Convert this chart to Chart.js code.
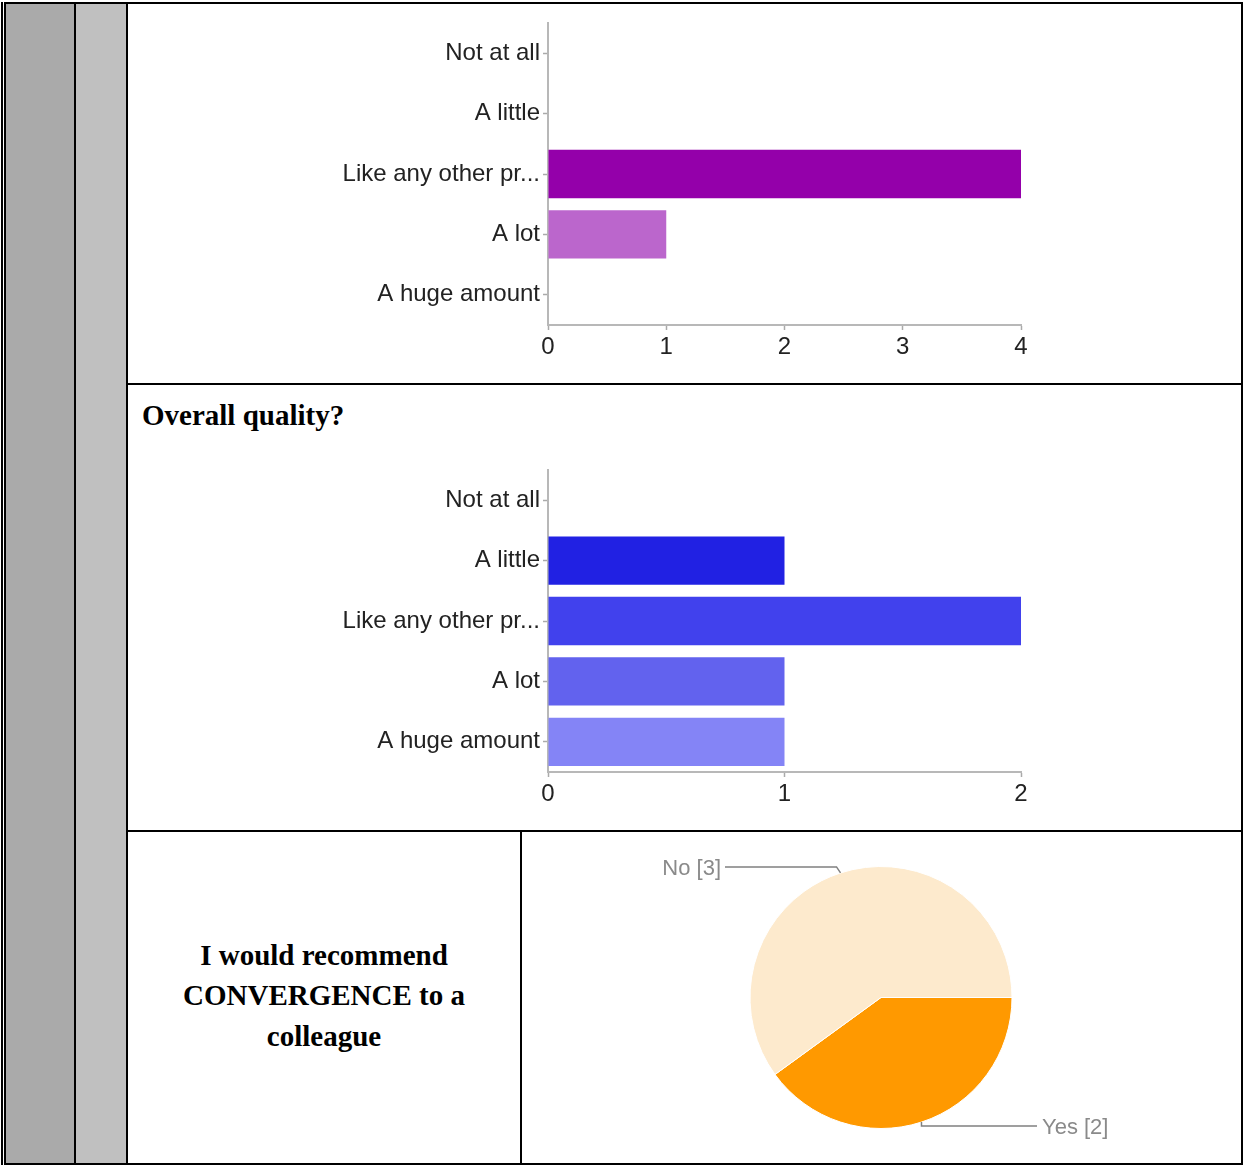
<!DOCTYPE html>
<html><head><meta charset="utf-8">
<script src="https://cdn.jsdelivr.net/npm/chart.js@4.4.1/dist/chart.umd.min.js"></script>
<style>
html,body{margin:0;padding:0;background:#fff;}
body{width:1243px;height:1166px;position:relative;overflow:hidden;}
.b{position:absolute;background:#000;}
canvas{position:absolute;}
.t{position:absolute;font-family:"Liberation Serif","Times New Roman",serif;font-weight:bold;font-size:29px;color:#000;}
</style></head><body>
<div class="b" style="left:1px;top:2px;width:2px;height:1163px"></div>
<div style="position:absolute;left:4px;top:2px;width:1239px;height:1163px;box-sizing:border-box;border:2px solid #000"></div>
<div style="position:absolute;left:6px;top:4px;width:68px;height:1159px;background:#aaaaaa"></div>
<div class="b" style="left:74px;top:4px;width:2px;height:1159px"></div>
<div style="position:absolute;left:76px;top:4px;width:50px;height:1159px;background:#c0c0c0"></div>
<div class="b" style="left:126px;top:4px;width:2px;height:1159px"></div>
<div class="b" style="left:128px;top:383px;width:1113px;height:2px"></div>
<div class="b" style="left:128px;top:830px;width:1113px;height:2px"></div>
<div class="b" style="left:520px;top:832px;width:2px;height:331px"></div>

<canvas id="c1" width="1112" height="379" style="left:128px;top:4px"></canvas>
<div class="t" style="left:142px;top:401px;line-height:29px;white-space:nowrap">Overall quality?</div>
<canvas id="c2" width="1112" height="385" style="left:128px;top:445px"></canvas>
<div class="t" style="left:128px;top:832px;width:392px;height:331px;display:flex;align-items:center;justify-content:center;text-align:center;line-height:40.5px;box-sizing:border-box;padding-bottom:4px">
<div>I would recommend<br>CONVERGENCE to a<br>colleague</div></div>
<canvas id="c3" width="718" height="331" style="left:522px;top:832px"></canvas>

<script>
const categories = ['Not at all', 'A little', 'Like any other pr...', 'A lot', 'A huge amount'];
const impactValues = [0, 0, 4, 1, 0];
const qualityValues = [0, 1, 2, 1, 1];
const impactTicks = [0, 1, 2, 3, 4];
const qualityTicks = [0, 1, 2];
const pieLabels = ['Yes', 'No'];
const pieValues = [2, 3];

const impactColors = ['#9400aa', '#9400aa', '#9400aa', '#bb66cc', '#bb66cc'];
const qualityColors = ['#2121e3', '#2121e3', '#4141ed', '#6262ee', '#8484f6'];
const pieColors = ['#ff9900', '#fdeacd'];

Chart.defaults.font.family = '"Liberation Sans", Arial, Helvetica, sans-serif';

function barChart(id, values, colors, ticks, padTop) {
  new Chart(document.getElementById(id), {
    type: 'bar',
    data: { labels: categories, datasets: [{ data: values, backgroundColor: colors, borderWidth: 0, barPercentage: 0.8, categoryPercentage: 1 }] },
    options: {
      indexAxis: 'y', responsive: false, animation: false, devicePixelRatio: 1,
      layout: { padding: { top: padTop, right: 219, bottom: 0, left: 0 } },
      plugins: { legend: { display: false }, tooltip: { enabled: false } },
      scales: {
        x: {
          min: ticks[0], max: ticks[ticks.length - 1],
          ticks: { stepSize: 1, color: '#222', font: { size: 24 }, padding: 3, maxRotation: 0 },
          grid: { drawOnChartArea: false, drawTicks: true, tickLength: 5, tickColor: '#aaa', tickWidth: 1.5 },
          border: { color: '#b8b8b8', width: 2 },
          afterFit: s => { s.height = 58; }
        },
        y: {
          ticks: { color: '#222', font: { size: 24 }, padding: 3, autoSkip: false },
          grid: { offset: false, drawOnChartArea: false, drawTicks: true, tickLength: 5, tickColor: '#aaa', tickWidth: 1.5 },
          border: { color: '#b8b8b8', width: 2 },
          afterFit: s => { s.width = 420; }
        }
      }
    }
  });
}
barChart('c1', impactValues, impactColors, impactTicks, 19);
barChart('c2', qualityValues, qualityColors, qualityTicks, 25);

const pieLabelPlugin = {
  id: 'pieLabels',
  afterDatasetsDraw(chart) {
    const ctx = chart.ctx;
    const meta = chart.getDatasetMeta(0);
    meta.data.forEach((arc, i) => {
      const p = arc.getProps(['x', 'y', 'startAngle', 'endAngle', 'outerRadius'], true);
      const mid = (p.startAngle + p.endAngle) / 2;
      const px = p.x + Math.cos(mid) * p.outerRadius;
      const py = p.y + Math.sin(mid) * p.outerRadius;
      const left = Math.cos(mid) < 0;
      const ey = py + (Math.sin(mid) < 0 ? -6 : 4);
      const ex = px + (left ? -4 : 0);
      const lx = p.x + (left ? -156 : 156);
      ctx.save();
      ctx.strokeStyle = '#808080';
      ctx.lineWidth = 1.5;
      ctx.beginPath(); ctx.moveTo(px, py); ctx.lineTo(ex, ey); ctx.lineTo(lx, ey); ctx.stroke();
      ctx.fillStyle = '#8a8a8a';
      ctx.font = '22px "Liberation Sans", Arial, sans-serif';
      ctx.textBaseline = 'middle';
      ctx.textAlign = left ? 'right' : 'left';
      ctx.fillText(chart.data.labels[i] + ' [' + chart.data.datasets[0].data[i] + ']', lx + (left ? -4 : 5), ey + 2);
      ctx.restore();
    });
  }
};

new Chart(document.getElementById('c3'), {
  type: 'pie',
  data: { labels: pieLabels, datasets: [{ data: pieValues, backgroundColor: pieColors, borderColor: '#fff', borderWidth: 1, radius: 131 }] },
  options: {
    responsive: false, animation: false, devicePixelRatio: 1, rotation: 90,
    plugins: { legend: { display: false }, tooltip: { enabled: false } }
  },
  plugins: [pieLabelPlugin]
});
</script>
</body></html>
